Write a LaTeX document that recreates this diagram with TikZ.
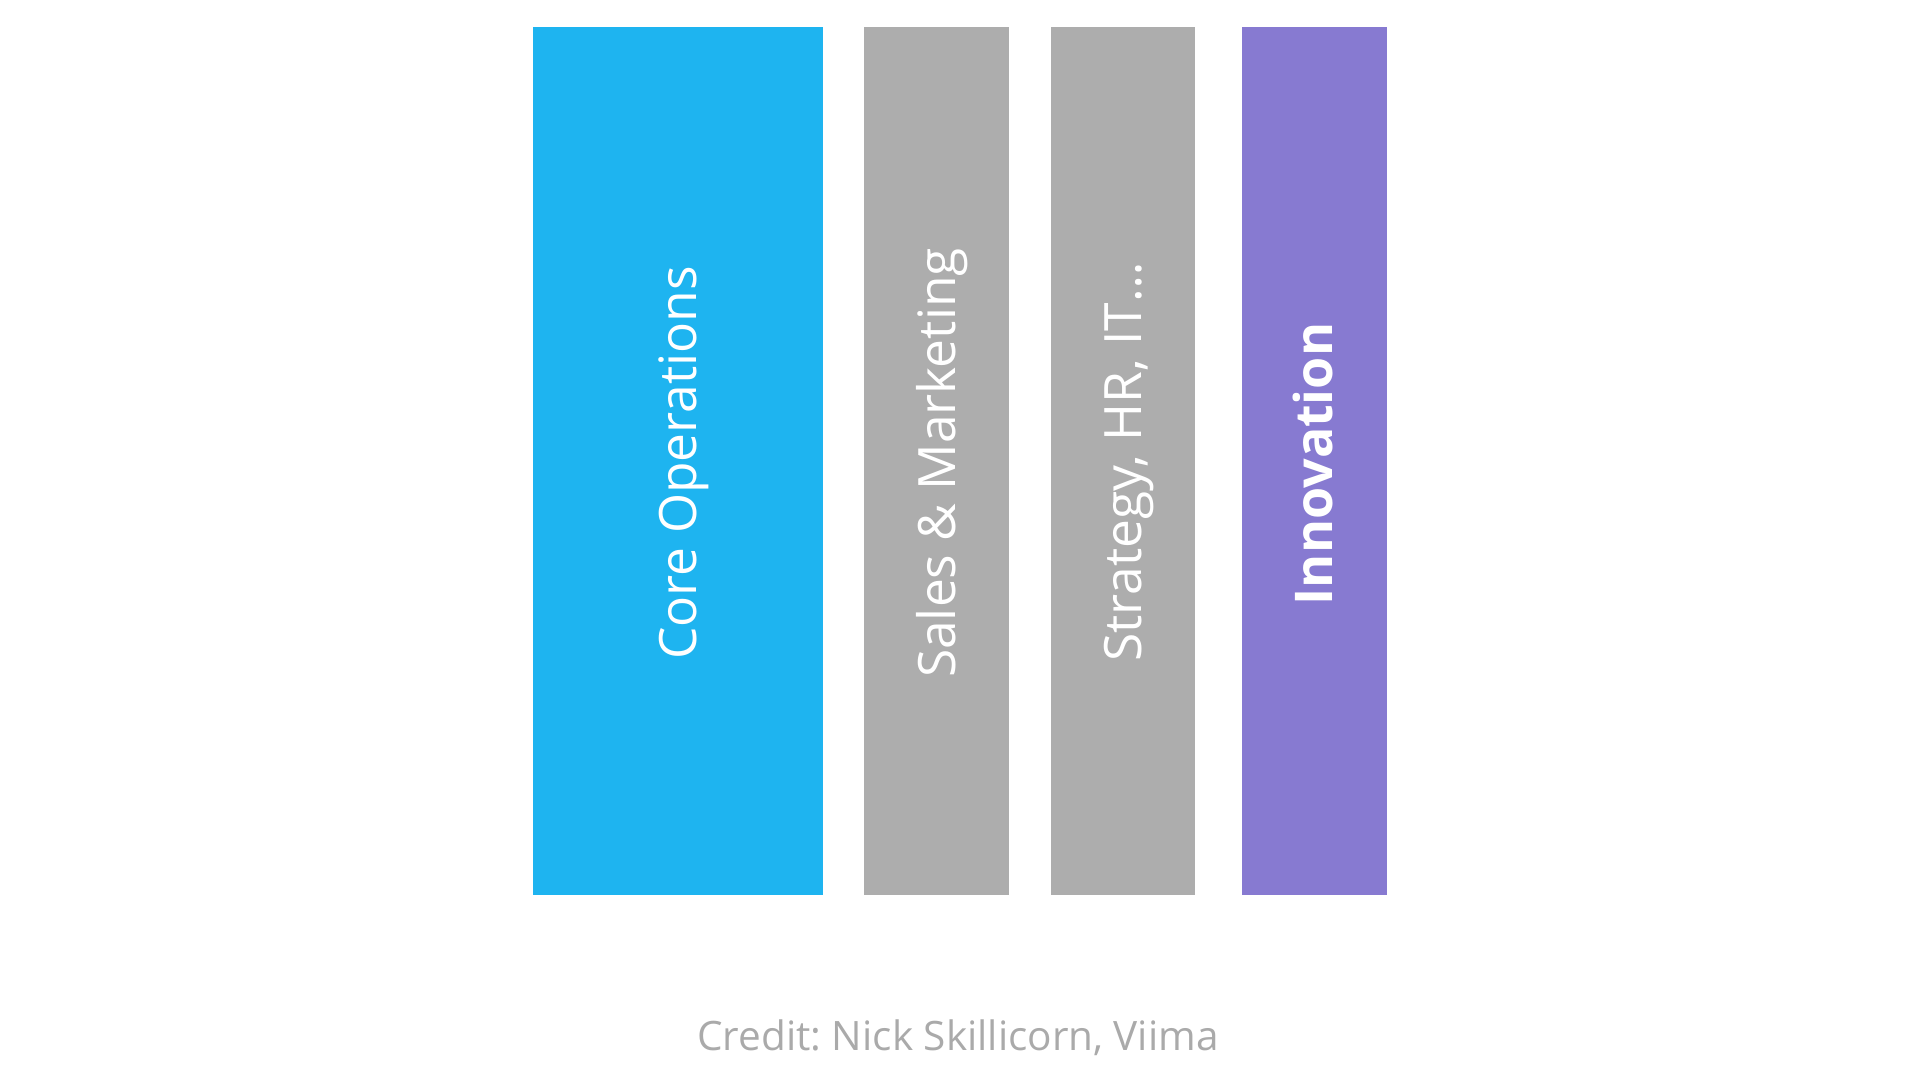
\documentclass[tikz,border=0pt]{standalone}
\usepackage{fontspec}
\setmainfont{Open Sans}
\frenchspacing
\definecolor{coreblue}{RGB}{30,180,240}
\definecolor{supportgray}{RGB}{173,173,173}
\definecolor{innovpurple}{RGB}{135,122,209}
\definecolor{creditgray}{RGB}{170,170,170}
\tikzset{barlabel/.style={text=white,rotate=90,anchor=base,inner sep=0pt,
    font=\fontsize{51.5}{62}\selectfont}}

\begin{document}
\begin{tikzpicture}[x=1pt,y=-1pt]
  \useasboundingbox (0,0) rectangle (1920,1080);
  % core operations
  \fill[coreblue] (533,27) rectangle (823,895);
  \node[barlabel] (core) at (696.5,463) {Core Operations};
  % sales and marketing
  \fill[supportgray] (864,27) rectangle (1009,895);
  \node[barlabel] (sales) at (955,463) {Sales \& Marketing};
  % strategy, hr, it
  \fill[supportgray] (1051,27) rectangle (1195,895);
  \node[barlabel] (strategy) at (1141.5,462) {Strategy, HR, IT…};
  % innovation
  \fill[innovpurple] (1242,27) rectangle (1387,895);
  \node[barlabel,font=\fontsize{52}{62}\selectfont\bfseries] (innov) at (1332.5,464) {Innovation};
  % credit line
  \node[anchor=base,inner sep=0pt,text=creditgray,font=\fontsize{40.5}{48}\selectfont]
    (credit) at (958,1050) {Credit: Nick Skillicorn, Viima};
\end{tikzpicture}
\end{document}
